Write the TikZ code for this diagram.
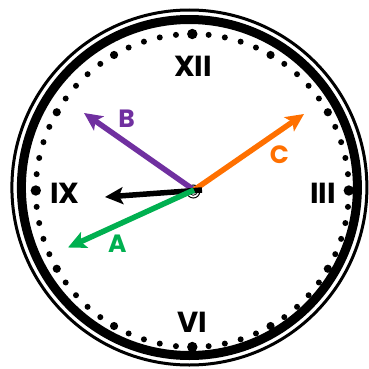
\documentclass[tikz,border=0pt]{standalone}
\usepackage{fontspec}
\setmainfont{Poppins}
\usetikzlibrary{arrows.meta}
\definecolor{handA}{RGB}{0,176,80}
\definecolor{handB}{RGB}{112,48,160}
\definecolor{handC}{RGB}{255,112,0}
\tikzset{
 hand/.style={line width=5.5pt,->},
 numeral/.style={inner sep=0pt,font=\bfseries\fontsize{29}{29}\selectfont},
 handlabel/.style={inner sep=0pt,font=\bfseries\fontsize{25}{25}\selectfont},
}

\begin{document}
\begin{tikzpicture}[x=1pt,y=-1pt,>={Stealth[length=18pt,width=17pt,inset=4pt]}]
 \useasboundingbox (0,0) rectangle (368,369);
 % rim
 \draw[line width=3pt] (189.4,187.5) circle[radius=177.5];
 \draw[line width=9pt] (189.4,187.5) circle[radius=168];
 % minute dots
 \coordinate (face) at (192.3,190.5);
 \foreach \i in {0,...,59}{
  \pgfmathsetmacro{\dotr}{ifthenelse(mod(\i,15)==0,5.2,ifthenelse(mod(\i,5)==0,4.1,3))}
  \fill (face) ++(\i*6:156.5) circle[radius=\dotr];
 }
 % hours
 \node[numeral] (XII) at (193,66) {XII};
 \node[numeral] (III) at (323,193.5) {III};
 \node[numeral] (VI) at (192,322) {VI};
 \node[numeral] (IX) at (65,193.5) {IX};
 % hub and hands
 \coordinate (O) at (194,190);
 \coordinate (tail) at (202,190);
 \coordinate (tipA) at (68,247.5);
 \coordinate (tipB) at (84,113);
 \coordinate (tipC) at (304,114);
 \coordinate (tipK) at (105,197);
 \filldraw[fill=white,line width=1pt] (193.3,191.5) circle[radius=6.5];
 \draw[line width=.8pt] (193.3,191.5) circle[radius=3.8];
 \draw[hand,handB] (O)--(tipB);
 \draw[hand,handC] (O)--(tipC);
 \draw[hand,black] (tail)--(tipK);
 \draw[hand,handA] (O)--(tipA);
 \node[handlabel,handB] (labB) at (126.7,118.5) {B};
 \node[handlabel,handC] (labC) at (279.3,154.5) {C};
 \node[handlabel,handA] (labA) at (117.3,244) {A};
\end{tikzpicture}
\end{document}
